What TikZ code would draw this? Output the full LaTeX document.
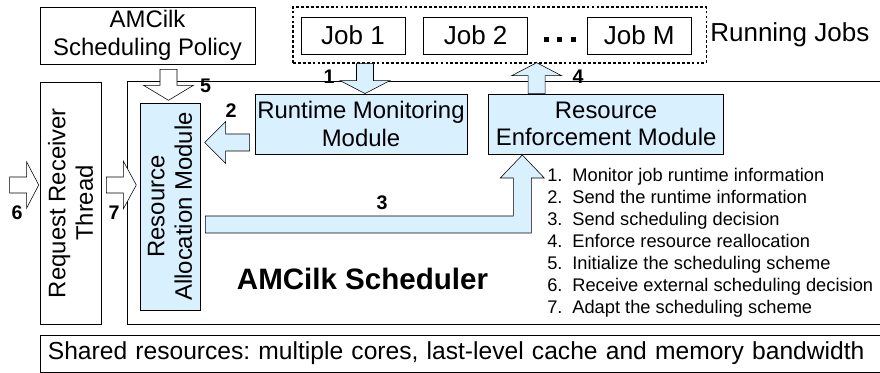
\documentclass[tikz,border=0pt]{standalone}
\usepackage{fontspec}
\setmainfont{Liberation Sans}
\usetikzlibrary{positioning,calc}
\definecolor{modblue}{HTML}{D9F0FF}
\frenchspacing
\tikzset{
  line width=0.9pt,
  line join=miter,
}

\begin{document}
\begin{tikzpicture}[
  x=0.025cm, y=-0.025cm,
  box/.style={draw, inner sep=0pt, align=center, font=\fontsize{17}{19.5}\selectfont},
  module/.style={box, fill=modblue},
  job/.style={draw, inner sep=0pt, minimum width=2.6cm, minimum height=0.925cm, font=\fontsize{18.5}{20}\selectfont},
  bluearrow/.style={draw, fill=modblue},
  whitearrow/.style={draw, fill=white},
  num/.style={inner sep=0pt, font=\fontsize{14}{14}\selectfont\bfseries}
]
\useasboundingbox (0,0) rectangle (880,373);

% top row
\node[box, minimum width=5.375cm, minimum height=1.425cm] (policy) at (147.5,35.5) {AMCilk\\Scheduling Policy};
\node[draw, line width=0.8pt, dash pattern=on 2pt off 1.5pt, minimum width=10.325cm, minimum height=1.4cm] (jobs) at (499.5,35) {};
\node[job] (job1) at (353,35.5) {Job 1};
\node[job, right=0.45cm of job1] (job2) {Job 2};
\node[job, right=1.475cm of job2] (jobM) {Job M};
\foreach \dx in {16,29.5,43}
  \fill ($(job2.east)+(\dx,1.5)$) rectangle ++(5,5);
\node[anchor=west, inner sep=0pt, font=\fontsize{18.5}{20}\selectfont] (running) at (710,35) {Running Jobs};

% scheduler
\node[draw, fill=white, minimum width=18.95cm, minimum height=6.075cm] (sched) at (506,202.5) {};
\node[box, rotate=90, minimum width=6.05cm, minimum height=1.525cm] (rrt) at (70.5,203) {Request Receiver\\Thread};
\node[module, rotate=90, minimum width=5.175cm, minimum height=1.5cm] (ram) at (170,206.5) {Resource\\Allocation Module};
\node[module, minimum width=5.3cm, minimum height=1.5cm] (rtm) at (361,124) {Runtime Monitoring\\Module};
\node[module, right=0.525cm of rtm, minimum width=5.875cm, minimum height=1.5cm] (rem) {Resource\\Enforcement Module};
\node[inner sep=0pt, font=\fontsize{21}{21}\selectfont\bfseries] (title) at (362.5,279) {AMCilk Scheduler};
\node[anchor=north west, inner sep=0pt, align=left, font=\fontsize{13}{15.7}\selectfont] (steps) at (547,167.5) {%
  1.\hspace{7pt}Monitor job runtime information\\
  2.\hspace{7pt}Send the runtime information\\
  3.\hspace{7pt}Send scheduling decision\\
  4.\hspace{7pt}Enforce resource reallocation\\
  5.\hspace{7pt}Initialize the scheduling scheme\\
  6.\hspace{7pt}Receive external scheduling decision\\
  7.\hspace{7pt}Adapt the scheduling scheme};

\node[box, inner xsep=0.2cm, text width=20.725cm, align=left, minimum height=0.925cm, font=\fontsize{17.5}{19.5}\selectfont] (shared) at (462.5,353.5) {Shared resources: multiple cores, last-level cache and memory bandwidth};

% block arrows
\draw[bluearrow] ($(jobs.south -| rtm.north)+(-4.5,0)$) -- ++(0,17) -- ++(-16.5,0) -- ++(25,13) -- ++(25,-13) -- ++(-16.5,0) -- ++(0,-17) -- cycle;
\draw[bluearrow] ($(rtm.west)+(-5,10)$) -- ++(-24,0) -- ++(0,-12.5) -- ++(-21,21) -- ++(21,21) -- ++(0,-12.5) -- ++(24,0) -- cycle;
\draw[bluearrow] ($(ram.south)+(5,9.5)$) -- ++(308,0) -- ++(0,-38) -- ++(-13,0) -- ++(22,-23) -- ++(22,23) -- ++(-13,0) -- ++(0,55) -- ++(-326,0) -- cycle;
\draw[bluearrow] ($(rem.north)+(-78,0)$) -- ++(0,-18) -- ++(-16.5,0) -- ++(25,-13) -- ++(25,13) -- ++(-16.5,0) -- ++(0,18) -- cycle;
\draw[whitearrow] ($(policy.south)+(12.5,5)$) -- ++(0,16) -- ++(-16.5,0) -- ++(25,15) -- ++(25,-15) -- ++(-16.5,0) -- ++(0,-16) -- cycle;
\draw[whitearrow] ($(rrt.north)+(-30,-26)$) -- ++(17,0) -- ++(0,-15) -- ++(12,23) -- ++(-12,23) -- ++(0,-15) -- ++(-17,0) -- cycle;
\draw[whitearrow] ($(rrt.south)+(5,-26)$) -- ++(17,0) -- ++(0,-16) -- ++(13,24) -- ++(-13,24) -- ++(0,-16) -- ++(-17,0) -- cycle;

\node[num] (n1) at (329,77) {1};
\node[num] (n2) at (231,111) {2};
\node[num] (n3) at (382,203) {3};
\node[num] (n4) at (578,77) {4};
\node[num] (n5) at (205.5,86) {5};
\node[num] (n6) at (17,213) {6};
\node[num] (n7) at (114,213) {7};
\end{tikzpicture}
\end{document}
